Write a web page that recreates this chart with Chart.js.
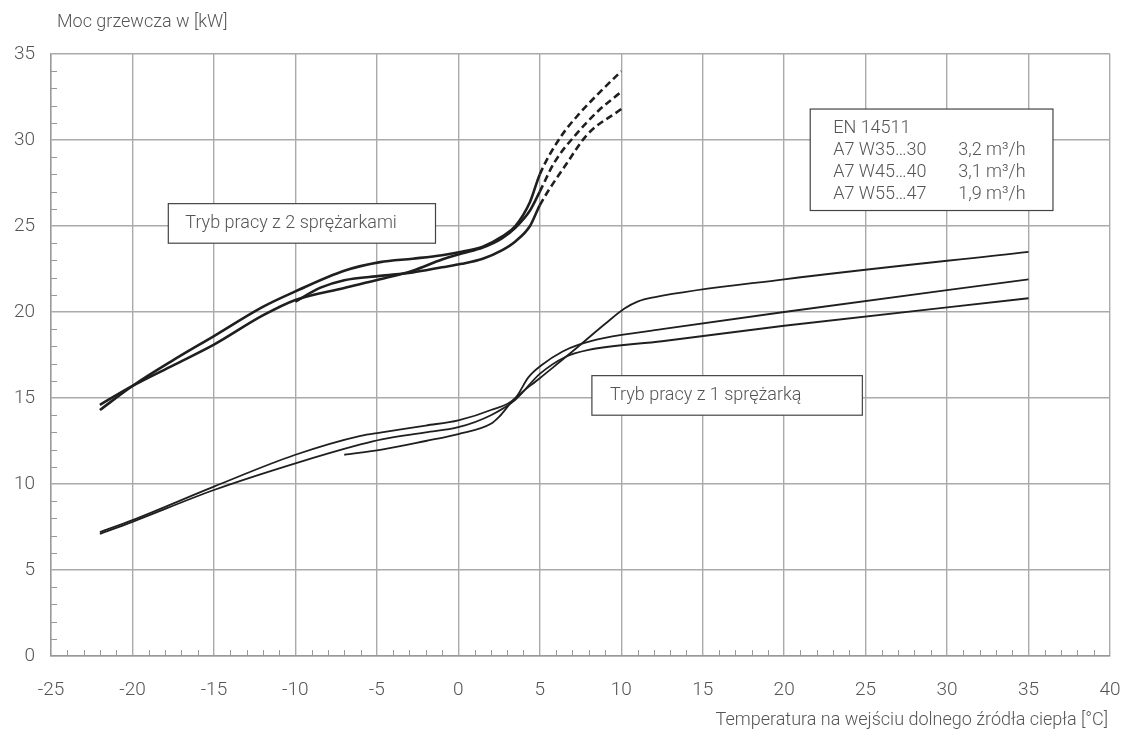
<!DOCTYPE html>
<html>
<head>
<meta charset="utf-8">
<title>Moc grzewcza</title>
<script src="https://cdn.jsdelivr.net/npm/chart.js@4/dist/chart.umd.min.js"></script>
<style>
  html, body { margin: 0; padding: 0; background: #fff; }
  #wrap { width: 1123px; height: 731px; }
</style>
</head>
<body>
<div id="wrap"><canvas id="chart" width="1123" height="731"></canvas></div>
<script>
// values
const xTitle = "Temperatura na wejściu dolnego źródła ciepła [°C]";
const yTitle = "Moc grzewcza w [kW]";
const xMin = -25, xMax = 40, yMin = 0, yMax = 35;
const dashFrom = 5; // 2-compressor curves are dashed above this source temperature

// 2 compressors
const twoTopX = [-22, -20, -17.5, -15, -12, -10, -7, -4.8, -2.8, -1, 0.2, 1.5, 2.7, 3.5, 4.4, 5, 6.3, 7.4, 8.6, 10];
const twoTopY = [14.3, 15.7, 17.2, 18.6, 20.3, 21.2, 22.4, 22.9, 23.1, 23.3, 23.5, 23.8, 24.4, 25.0, 26.4, 28.0, 30.2, 31.5, 32.7, 34.0];
const twoMidX = [-22, -20, -17.5, -15, -12, -10, -7, -4.8, -2.8, -1, 0.2, 1.5, 2.7, 3.5, 4.4, 5, 5.9, 7.2, 8.6, 10];
const twoMidY = [14.6, 15.7, 16.9, 18.1, 19.8, 20.7, 21.4, 21.9, 22.4, 23.05, 23.4, 23.75, 24.3, 24.9, 25.9, 27.0, 28.7, 30.3, 31.7, 32.8];
const twoLowX = [-10, -8.5, -7, -4.8, -2.8, -1, 0.2, 1.5, 2.7, 3.5, 4.4, 5, 6.7, 7.9, 10];
const twoLowY = [20.6, 21.4, 21.85, 22.1, 22.3, 22.6, 22.8, 23.1, 23.6, 24.1, 25.0, 26.2, 28.7, 30.3, 31.8];

// 1 compressor
const oneTopX = [-22, -20, -15, -10, -6, -4.7, -2, 0, 2, 3.5, 4.3, 5.1, 6.4, 7.4, 9, 12.5, 20, 35];
const oneTopY = [7.2, 7.9, 9.85, 11.7, 12.8, 13.0, 13.4, 13.7, 14.3, 15.0, 16.2, 16.9, 17.7, 18.1, 18.5, 19.0, 20.0, 21.9];
const oneMidX = [-22, -20, -15, -10, -6, -4.7, -2, 0, 2, 3.5, 5, 6.6, 8, 12.5, 20, 35];
const oneMidY = [7.1, 7.8, 9.65, 11.2, 12.3, 12.6, 13.0, 13.3, 14.0, 14.9, 16.4, 17.4, 17.8, 18.3, 19.2, 20.8];
const oneLowX = [-7, -4.7, -2, 0, 2, 2.5, 3.4, 5, 7, 9, 10.2, 11, 12, 20, 35];
const oneLowY = [11.7, 12.0, 12.5, 12.9, 13.5, 13.9, 14.9, 16.15, 17.7, 19.3, 20.2, 20.6, 20.85, 21.9, 23.5];

// text boxes, corners in data units
const labelTwo = "Tryb pracy z 2 sprężarkami";
const labelOne = "Tryb pracy z 1 sprężarką";
const boxTwo = [-17.8, 26.3, -1.4, 24.0];
const boxOne = [8.2, 16.3, 24.8, 14.0];
const boxNorm = [21.6, 31.8, 36.5, 25.9];
const normTitle = "EN 14511";
const normRows = ["A7 W35…30", "A7 W45…40", "A7 W55…47"];
const normFlows = ["3,2 m³/h", "3,1 m³/h", "1,9 m³/h"];

const FONT = "Roboto, 'Noto Sans', sans-serif";
const TXT = "#555";

function pts(xs, ys) { return xs.map((x, i) => ({ x, y: ys[i] })); }

function curve(xs, ys, width, dashed) {
  const ds = {
    data: pts(xs, ys),
    borderColor: "#1f1f1f",
    borderWidth: width,
    pointRadius: 0,
    fill: false,
    cubicInterpolationMode: "monotone"
  };
  if (dashed) ds.segment = { borderDash: ctx => ctx.p0.parsed.x >= dashFrom ? [7, 4] : undefined };
  return ds;
}

const overlay = {
  id: "overlay",
  beforeDatasetsDraw(chart) {
    const { ctx, scales: { x, y } } = chart;
    ctx.save();
    const rect = b => {
      const l = x.getPixelForValue(b[0]), t = y.getPixelForValue(b[1]);
      const r = x.getPixelForValue(b[2]), btm = y.getPixelForValue(b[3]);
      ctx.fillStyle = "#fff";
      ctx.fillRect(l, t, r - l, btm - t);
      ctx.strokeStyle = "#444";
      ctx.lineWidth = 1.2;
      ctx.strokeRect(l, t, r - l, btm - t);
      ctx.fillStyle = TXT;
      return { l, t, r, btm };
    };
    ctx.font = "300 18px " + FONT;
    ctx.textBaseline = "middle";
    ctx.textAlign = "left";

    let b = rect(boxTwo);
    ctx.fillText(labelTwo, b.l + 17, (b.t + b.btm) / 2);
    b = rect(boxOne);
    ctx.fillText(labelOne, b.l + 18, (b.t + b.btm) / 2);
    b = rect(boxNorm);
    ctx.fillText(normTitle, b.l + 23, b.t + 19);
    normRows.forEach((r, i) => {
      ctx.fillText(r, b.l + 23, b.t + 41 + i * 22);
      ctx.fillText(normFlows[i], b.l + 148, b.t + 41 + i * 22);
    });
    ctx.restore();
  },
  afterDraw(chart) {
    const { ctx, chartArea: a, scales: { x, y } } = chart;
    ctx.save();
    // minor ticks pointing into the plot
    ctx.strokeStyle = "#999";
    ctx.lineWidth = 1;
    ctx.beginPath();
    for (let v = xMin + 1; v < xMax; v++) {
      if (v % 5 === 0) continue;
      const px = Math.round(x.getPixelForValue(v)) + 0.5;
      ctx.moveTo(px, a.bottom); ctx.lineTo(px, a.bottom - 6);
    }
    for (let v = yMin + 1; v < yMax; v++) {
      if (v % 5 === 0) continue;
      const py = Math.round(y.getPixelForValue(v)) + 0.5;
      ctx.moveTo(a.left, py); ctx.lineTo(a.left + 6, py);
    }
    ctx.stroke();
    // axis titles
    ctx.font = "300 18px " + FONT;
    ctx.fillStyle = TXT;
    ctx.textBaseline = "middle";
    ctx.textAlign = "left";
    ctx.fillText(yTitle, 57, 22);
    ctx.textAlign = "right";
    ctx.fillText(xTitle, a.right - 2, 720);
    ctx.restore();
  }
};

new Chart(document.getElementById("chart"), {
  type: "line",
  data: {
    datasets: [
      curve(twoTopX, twoTopY, 2.6, true),
      curve(twoMidX, twoMidY, 2.6, true),
      curve(twoLowX, twoLowY, 2.6, true),
      curve(oneTopX, oneTopY, 1.8, false),
      curve(oneMidX, oneMidY, 1.8, false),
      curve(oneLowX, oneLowY, 1.8, false)
    ]
  },
  options: {
    responsive: false,
    animation: false,
    layout: { padding: { left: 0, top: 54, right: 13, bottom: 0 } },
    plugins: { legend: { display: false }, tooltip: { enabled: false } },
    scales: {
      x: {
        type: "linear", min: xMin, max: xMax,
        ticks: { stepSize: 5, padding: 23, color: TXT, font: { family: FONT, size: 19, weight: 300 } },
        grid: { color: "#aaa", lineWidth: 1.4, drawTicks: false },
        border: { color: "#999", width: 1.4 },
        afterFit: s => { s.height = 75; s.paddingLeft = 0; s.paddingRight = 0; }
      },
      y: {
        min: yMin, max: yMax,
        ticks: { stepSize: 5, padding: 16, color: TXT, font: { family: FONT, size: 19, weight: 300 } },
        grid: { color: "#aaa", lineWidth: 1.4, drawTicks: false },
        border: { color: "#999", width: 1.4 },
        afterFit: s => { s.width = 51; s.paddingTop = 0; s.paddingBottom = 0; }
      }
    }
  },
  plugins: [overlay]
});
</script>
</body>
</html>
